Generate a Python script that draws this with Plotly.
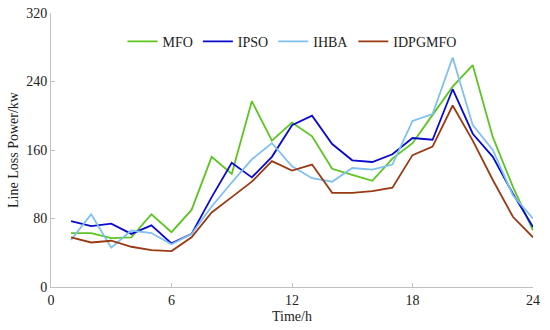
import plotly.graph_objects as go

hours = list(range(1, 25))
mfo = [63, 63, 57, 58, 85, 64, 90, 152, 132, 217, 171, 192, 176, 138, 131, 124, 150, 168, 201, 234, 259, 175, 117, 66]
ipso = [77, 71, 74, 62, 72, 51, 62, 105, 145, 128, 152, 189, 200, 167, 148, 146, 155, 174, 172, 231, 179, 152, 109, 70]
ihba = [55, 85, 46, 66, 63, 50, 62, 94, 122, 149, 168, 141, 127, 123, 139, 137, 143, 194, 202, 268, 189, 160, 107, 80]
idpgmfo = [58, 52, 54, 47, 43, 42, 58, 87, 105, 123, 147, 136, 143, 110, 110, 112, 116, 154, 164, 212, 171, 125, 82, 58]

x_ticks = [0, 6, 12, 18, 24]
y_ticks = [0, 80, 160, 240, 320]

series = [
    ("MFO", mfo, "#5cc520"),
    ("IPSO", ipso, "#0a0acc"),
    ("IHBA", ihba, "#7ec0ee"),
    ("IDPGMFO", idpgmfo, "#9a3a12"),
]

fig = go.Figure()
for name, vals, col in series:
    fig.add_trace(go.Scatter(x=hours, y=vals, mode="lines", name=name,
                             line=dict(color=col, width=1.8)))

font = dict(family="Liberation Serif", size=14, color="#222")
axis_common = dict(showgrid=False, zeroline=False, showline=True, linecolor="#c0c0c0",
                   linewidth=1, ticks="inside", ticklen=4, tickcolor="#c0c0c0",
                   tickfont=font, mirror=False, automargin=False,
                   ticklabeloverflow="allow")

fig.update_layout(
    width=550, height=330,
    margin=dict(l=51, r=17, t=13, b=43, autoexpand=False),
    paper_bgcolor="white", plot_bgcolor="white",
    font=font,
    showlegend=True,
    legend=dict(orientation="h", x=0.5, xanchor="center", y=0.895, yanchor="middle",
                bgcolor="rgba(0,0,0,0)", font=font, itemwidth=30, tracegroupgap=0),
    xaxis=dict(range=[0, 24], tickvals=x_ticks, title=dict(text="Time/h", font=font, standoff=4),
               **axis_common),
    yaxis=dict(range=[0, 320], tickvals=y_ticks, title=dict(text="Line Loss Power/kw", font=font, standoff=4),
               **axis_common),
)

# remove the page's default 8px body margin so the figure fills the window
fig.write_html("out.html", config={"displayModeBar": False},
               post_script="document.body.style.margin='0px';")
